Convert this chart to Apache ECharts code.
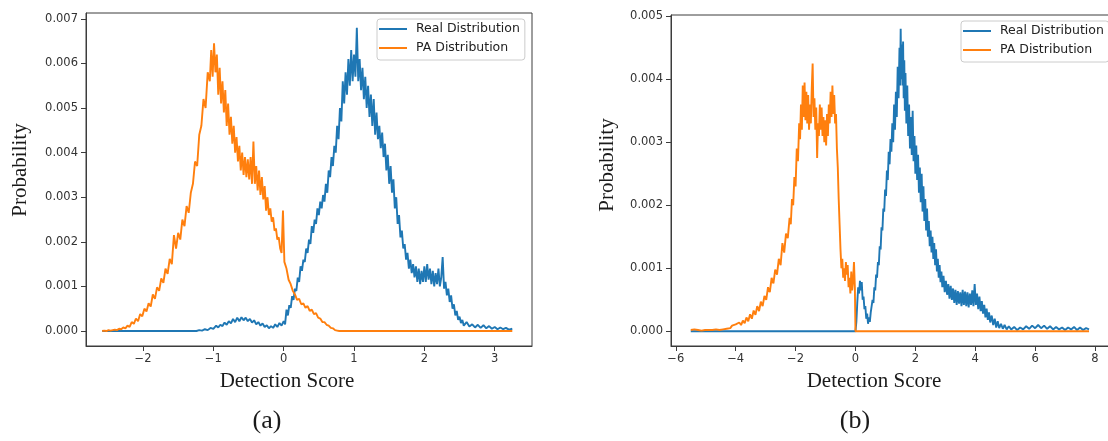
<!DOCTYPE html>
<html>
<head>
<meta charset="utf-8">
<title>Detection score distributions</title>
<script src="https://cdn.jsdelivr.net/npm/echarts@6/dist/echarts.min.js"></script>
<style>
  html, body { margin: 0; padding: 0; background: #fff; }
  #chart { width: 1108px; height: 441px; }
</style>
</head>
<body>
<div id="chart"></div>
<script>
// probabilities are written in units of 0.001, as [score, value]
const realA = [
  [-2.58, 0], [-1.24, 0], [-1.2, 0.02], [-1.16, 0.01], [-1.12, 0.04], [-1.08, 0.02], [-1.04, 0.07], [-1.0, 0.05],
  [-0.96, 0.12], [-0.93, 0.08], [-0.9, 0.14], [-0.87, 0.11], [-0.84, 0.19], [-0.81, 0.14], [-0.78, 0.22], [-0.75, 0.17],
  [-0.72, 0.27], [-0.69, 0.2], [-0.66, 0.3], [-0.63, 0.22], [-0.6, 0.31], [-0.57, 0.24], [-0.54, 0.3], [-0.51, 0.22],
  [-0.48, 0.27], [-0.45, 0.19], [-0.42, 0.24], [-0.39, 0.15], [-0.36, 0.2], [-0.33, 0.12], [-0.3, 0.17], [-0.27, 0.09],
  [-0.24, 0.13], [-0.21, 0.06], [-0.18, 0.11], [-0.15, 0.07], [-0.12, 0.15], [-0.09, 0.09], [-0.06, 0.18], [-0.03, 0.12],
  [0.0, 0.22], [0.02, 0.15], [0.04, 0.48], [0.06, 0.35], [0.08, 0.58], [0.1, 0.52], [0.12, 0.78], [0.14, 0.7],
  [0.16, 0.95], [0.18, 0.9], [0.2, 1.2], [0.22, 1.1], [0.24, 1.45], [0.26, 1.35], [0.28, 1.6], [0.3, 1.55],
  [0.32, 1.85], [0.34, 1.75], [0.36, 2.05], [0.38, 1.95], [0.4, 2.35], [0.42, 2.2], [0.44, 2.5], [0.46, 2.4],
  [0.48, 2.75], [0.5, 2.6], [0.52, 2.9], [0.54, 2.75], [0.56, 3.05], [0.58, 2.9], [0.6, 3.3], [0.62, 3.1],
  [0.64, 3.6], [0.66, 3.45], [0.68, 3.9], [0.7, 3.7], [0.72, 4.15], [0.74, 4.0], [0.76, 4.6], [0.78, 4.3],
  [0.8, 5.0], [0.82, 4.7], [0.84, 5.6], [0.86, 5.1], [0.88, 5.8], [0.9, 5.3], [0.92, 6.1], [0.94, 5.5],
  [0.96, 6.3], [0.98, 5.6], [1.0, 6.2], [1.02, 5.7], [1.04, 6.8], [1.06, 5.6], [1.08, 6.1], [1.1, 5.4],
  [1.12, 5.9], [1.14, 5.2], [1.16, 5.7], [1.18, 5.0], [1.2, 5.5], [1.22, 4.8], [1.24, 5.3], [1.26, 4.6],
  [1.28, 5.2], [1.3, 4.4], [1.32, 4.9], [1.34, 4.3], [1.36, 4.6], [1.38, 4.1], [1.4, 4.45], [1.42, 3.9],
  [1.44, 4.2], [1.46, 3.6], [1.48, 3.95], [1.5, 3.3], [1.52, 3.7], [1.54, 3.1], [1.56, 3.4], [1.58, 2.75],
  [1.6, 3.0], [1.62, 2.4], [1.64, 2.6], [1.66, 2.1], [1.68, 2.25], [1.7, 1.85], [1.72, 1.95], [1.74, 1.6],
  [1.76, 1.75], [1.78, 1.4], [1.8, 1.6], [1.82, 1.3], [1.84, 1.5], [1.86, 1.2], [1.88, 1.45], [1.9, 1.1],
  [1.92, 1.4], [1.94, 1.05], [1.96, 1.35], [1.98, 1.1], [2.0, 1.45], [2.02, 1.1], [2.04, 1.5], [2.06, 1.15],
  [2.08, 1.4], [2.1, 1.05], [2.12, 1.35], [2.14, 1.0], [2.16, 1.3], [2.18, 1.05], [2.2, 1.4], [2.22, 1.0],
  [2.24, 1.2], [2.26, 1.66], [2.28, 0.95], [2.3, 1.1], [2.32, 0.8], [2.34, 0.95], [2.36, 0.65], [2.38, 0.8],
  [2.4, 0.5], [2.42, 0.6], [2.44, 0.35], [2.46, 0.45], [2.48, 0.25], [2.5, 0.32], [2.52, 0.18], [2.54, 0.25],
  [2.56, 0.12], [2.6, 0.2], [2.64, 0.1], [2.68, 0.15], [2.72, 0.08], [2.76, 0.14], [2.8, 0.07], [2.84, 0.13],
  [2.88, 0.06], [2.92, 0.11], [2.96, 0.05], [3.0, 0.09], [3.04, 0.04], [3.08, 0.08], [3.12, 0.04], [3.16, 0.07],
  [3.2, 0.03], [3.25, 0.05],
];

const paA = [
  [-2.58, 0], [-2.55, 0.01], [-2.52, 0], [-2.49, 0.02], [-2.46, 0.01], [-2.43, 0.02], [-2.4, 0.03], [-2.37, 0.02],
  [-2.34, 0.05], [-2.31, 0.04], [-2.28, 0.08], [-2.25, 0.06], [-2.22, 0.12], [-2.19, 0.09], [-2.16, 0.2], [-2.13, 0.16],
  [-2.1, 0.28], [-2.07, 0.22], [-2.04, 0.38], [-2.01, 0.33], [-1.98, 0.5], [-1.95, 0.44], [-1.92, 0.62], [-1.89, 0.55],
  [-1.86, 0.82], [-1.83, 0.72], [-1.8, 0.98], [-1.77, 0.9], [-1.74, 1.18], [-1.71, 1.08], [-1.68, 1.4], [-1.65, 1.28],
  [-1.62, 1.62], [-1.59, 1.5], [-1.56, 2.15], [-1.53, 1.85], [-1.5, 2.2], [-1.47, 2.05], [-1.44, 2.5], [-1.41, 2.35],
  [-1.38, 2.8], [-1.35, 2.65], [-1.32, 3.1], [-1.29, 3.3], [-1.26, 3.8], [-1.23, 3.7], [-1.2, 4.4], [-1.17, 4.6],
  [-1.14, 5.2], [-1.11, 5.0], [-1.08, 5.8], [-1.05, 5.6], [-1.03, 6.3], [-1.01, 5.7], [-0.99, 6.45], [-0.97, 5.8],
  [-0.95, 6.2], [-0.93, 5.3], [-0.91, 5.9], [-0.89, 5.1], [-0.87, 5.6], [-0.85, 4.9], [-0.83, 5.4], [-0.81, 4.6],
  [-0.79, 5.1], [-0.77, 4.4], [-0.75, 4.8], [-0.73, 4.2], [-0.71, 4.6], [-0.69, 4.0], [-0.67, 4.35], [-0.65, 3.8],
  [-0.63, 4.15], [-0.61, 3.6], [-0.59, 4.0], [-0.57, 3.5], [-0.55, 3.9], [-0.53, 3.45], [-0.51, 3.85], [-0.49, 3.4],
  [-0.47, 3.9], [-0.45, 3.3], [-0.43, 4.25], [-0.41, 3.3], [-0.39, 3.7], [-0.37, 3.15], [-0.35, 3.6], [-0.33, 3.05],
  [-0.31, 3.45], [-0.29, 2.95], [-0.27, 3.25], [-0.25, 2.7], [-0.23, 3.0], [-0.21, 2.6], [-0.19, 2.75], [-0.17, 2.45],
  [-0.15, 2.55], [-0.13, 2.25], [-0.11, 2.3], [-0.09, 2.05], [-0.07, 2.1], [-0.05, 1.85], [-0.03, 1.75], [-0.01, 2.7],
  [0.01, 1.55], [0.04, 1.4], [0.07, 1.15], [0.1, 1.05], [0.13, 0.9], [0.16, 0.82], [0.19, 0.7], [0.22, 0.72],
  [0.25, 0.6], [0.28, 0.62], [0.31, 0.52], [0.34, 0.56], [0.37, 0.45], [0.4, 0.48], [0.43, 0.38], [0.46, 0.4],
  [0.49, 0.3], [0.52, 0.28], [0.55, 0.2], [0.58, 0.2], [0.61, 0.14], [0.64, 0.12], [0.67, 0.07], [0.7, 0.06],
  [0.73, 0.02], [0.76, 0.01], [0.79, 0], [3.25, 0],
];

const realB = [
  [-5.5, 0], [0.0, 0], [0.03, 0.15], [0.06, 0.45], [0.09, 0.7], [0.12, 0.6], [0.15, 0.8], [0.18, 0.65],
  [0.21, 0.78], [0.24, 0.5], [0.27, 0.55], [0.3, 0.35], [0.33, 0.4], [0.36, 0.2], [0.39, 0.28], [0.42, 0.12],
  [0.45, 0.22], [0.48, 0.15], [0.51, 0.3], [0.54, 0.28], [0.57, 0.5], [0.6, 0.45], [0.63, 0.7], [0.66, 0.65],
  [0.69, 0.9], [0.72, 0.85], [0.75, 1.1], [0.78, 1.05], [0.81, 1.35], [0.84, 1.3], [0.87, 1.65], [0.9, 1.6],
  [0.93, 1.95], [0.96, 1.9], [0.99, 2.25], [1.02, 2.15], [1.05, 2.55], [1.08, 2.4], [1.11, 2.85], [1.14, 2.65],
  [1.17, 3.05], [1.2, 2.85], [1.23, 3.3], [1.26, 3.0], [1.29, 3.6], [1.32, 3.2], [1.35, 3.8], [1.38, 3.4],
  [1.41, 4.2], [1.44, 3.7], [1.47, 4.5], [1.49, 3.9], [1.51, 4.8], [1.53, 4.0], [1.55, 4.55], [1.57, 3.9],
  [1.59, 4.6], [1.61, 3.7], [1.63, 4.3], [1.65, 3.5], [1.67, 4.1], [1.7, 3.3], [1.73, 3.9], [1.76, 3.1],
  [1.79, 3.6], [1.82, 2.9], [1.85, 3.4], [1.88, 2.8], [1.91, 3.5], [1.94, 2.7], [1.97, 3.1], [2.0, 2.5],
  [2.03, 2.95], [2.06, 2.4], [2.09, 2.8], [2.12, 2.2], [2.15, 2.6], [2.18, 2.05], [2.21, 2.5], [2.24, 1.9],
  [2.27, 2.3], [2.3, 1.75], [2.33, 2.1], [2.36, 1.6], [2.39, 1.95], [2.42, 1.5], [2.45, 1.75], [2.48, 1.35],
  [2.51, 1.6], [2.54, 1.25], [2.57, 1.5], [2.6, 1.15], [2.63, 1.4], [2.66, 1.05], [2.69, 1.3], [2.72, 0.95],
  [2.75, 1.15], [2.78, 0.85], [2.81, 1.05], [2.84, 0.78], [2.87, 0.95], [2.9, 0.7], [2.94, 0.88], [2.98, 0.62],
  [3.02, 0.8], [3.06, 0.58], [3.1, 0.75], [3.14, 0.52], [3.18, 0.72], [3.22, 0.5], [3.26, 0.68], [3.3, 0.45],
  [3.34, 0.66], [3.38, 0.42], [3.42, 0.64], [3.46, 0.44], [3.5, 0.62], [3.54, 0.4], [3.58, 0.66], [3.62, 0.42],
  [3.66, 0.63], [3.7, 0.4], [3.74, 0.62], [3.78, 0.38], [3.82, 0.6], [3.86, 0.42], [3.9, 0.65], [3.94, 0.4],
  [3.98, 0.75], [4.02, 0.42], [4.06, 0.6], [4.1, 0.35], [4.14, 0.55], [4.18, 0.32], [4.22, 0.48], [4.26, 0.28],
  [4.3, 0.42], [4.34, 0.22], [4.38, 0.36], [4.42, 0.18], [4.46, 0.3], [4.5, 0.14], [4.55, 0.25], [4.6, 0.1],
  [4.65, 0.2], [4.7, 0.06], [4.75, 0.16], [4.8, 0.05], [4.86, 0.12], [4.92, 0.04], [4.98, 0.1], [5.05, 0.03],
  [5.12, 0.08], [5.2, 0.03], [5.3, 0.07], [5.4, 0.02], [5.5, 0.06], [5.6, 0.03], [5.7, 0.08], [5.8, 0.04],
  [5.9, 0.09], [6.0, 0.05], [6.1, 0.1], [6.2, 0.05], [6.3, 0.09], [6.4, 0.04], [6.5, 0.08], [6.6, 0.03],
  [6.7, 0.07], [6.8, 0.03], [6.9, 0.06], [7.0, 0.02], [7.1, 0.06], [7.2, 0.03], [7.3, 0.07], [7.4, 0.02],
  [7.5, 0.06], [7.6, 0.02], [7.7, 0.05], [7.8, 0.03],
];

const paB = [
  [-5.5, 0.02], [-5.44, 0.01], [-5.38, 0.03], [-5.32, 0.01], [-5.26, 0.02], [-5.2, 0.03], [-5.14, 0.01], [-5.08, 0.03],
  [-5.02, 0.02], [-4.96, 0.04], [-4.9, 0.02], [-4.84, 0.03], [-4.78, 0.02], [-4.72, 0.04], [-4.66, 0.03], [-4.6, 0.05],
  [-4.54, 0.02], [-4.48, 0.04], [-4.42, 0.03], [-4.36, 0.06], [-4.3, 0.04], [-4.24, 0.07], [-4.18, 0.05], [-4.12, 0.09],
  [-4.06, 0.06], [-4.0, 0.11], [-3.94, 0.08], [-3.88, 0.14], [-3.82, 0.1], [-3.76, 0.17], [-3.7, 0.13], [-3.64, 0.22],
  [-3.58, 0.16], [-3.52, 0.27], [-3.46, 0.2], [-3.4, 0.33], [-3.34, 0.26], [-3.28, 0.4], [-3.22, 0.32], [-3.16, 0.47],
  [-3.1, 0.4], [-3.04, 0.56], [-2.98, 0.5], [-2.92, 0.7], [-2.86, 0.62], [-2.8, 0.85], [-2.74, 0.76], [-2.68, 0.98],
  [-2.62, 0.9], [-2.56, 1.15], [-2.5, 1.05], [-2.44, 1.4], [-2.38, 1.25], [-2.32, 1.55], [-2.26, 1.48], [-2.2, 1.8],
  [-2.16, 1.7], [-2.12, 2.1], [-2.08, 2.0], [-2.04, 2.45], [-2.0, 2.3], [-1.96, 2.9], [-1.92, 2.7], [-1.88, 3.3],
  [-1.85, 3.05], [-1.82, 3.6], [-1.79, 3.2], [-1.76, 3.9], [-1.73, 3.4], [-1.7, 3.95], [-1.67, 3.35], [-1.64, 3.8],
  [-1.61, 3.3], [-1.58, 3.75], [-1.55, 3.2], [-1.52, 3.6], [-1.49, 3.3], [-1.46, 3.85], [-1.43, 4.25], [-1.4, 3.4],
  [-1.37, 3.7], [-1.34, 3.2], [-1.31, 3.55], [-1.28, 2.75], [-1.25, 3.3], [-1.22, 3.1], [-1.19, 3.6], [-1.16, 3.2],
  [-1.13, 3.55], [-1.1, 3.1], [-1.07, 3.4], [-1.04, 3.0], [-1.01, 3.35], [-0.98, 2.95], [-0.95, 3.45], [-0.92, 3.1],
  [-0.89, 3.6], [-0.86, 3.3], [-0.83, 3.8], [-0.8, 3.4], [-0.77, 3.9], [-0.74, 3.45], [-0.71, 3.75], [-0.68, 3.3],
  [-0.65, 3.45], [-0.62, 2.9], [-0.59, 2.6], [-0.56, 2.1], [-0.53, 1.7], [-0.5, 1.3], [-0.47, 1.0], [-0.44, 1.15],
  [-0.41, 0.85], [-0.38, 1.0], [-0.35, 0.8], [-0.32, 1.1], [-0.29, 0.9], [-0.26, 1.05], [-0.23, 0.7], [-0.2, 0.85],
  [-0.17, 0.6], [-0.14, 0.95], [-0.11, 0.65], [-0.08, 0.8], [-0.05, 1.1], [-0.02, 0.7], [0.0, 0], [7.8, 0],
];

const xTicksA = [-2, -1, 0, 1, 2, 3];
const yTicksA = [0, 0.001, 0.002, 0.003, 0.004, 0.005, 0.006, 0.007];
const xTicksB = [-6, -4, -2, 0, 2, 4, 6, 8];
const yTicksB = [0, 0.001, 0.002, 0.003, 0.004, 0.005];

const SERIES_NAMES = ["Real Distribution", "PA Distribution"];
const COLORS = ["#1f77b4", "#ff7f0e"];
const FRAME = "#3c3c3c";
const SANS = "DejaVu Sans";
const SERIF = "Liberation Serif";

const chart = echarts.init(document.getElementById("chart"), null, { renderer: "canvas" });

function toProbability(points) {
  return points.map(([x, v]) => [x, v / 1000]);
}

function formatScore(value) {
  return String(value).replace("-", "\u2212");
}

function buildXAxis(gridIndex, min, max, ticks) {
  return {
    type: "value",
    gridIndex,
    min,
    max,
    axisLine: { show: true, onZero: false, lineStyle: { color: FRAME, width: 1 } },
    axisTick: { show: true, length: 5, customValues: ticks, lineStyle: { color: FRAME } },
    axisLabel: {
      customValues: ticks,
      margin: 7,
      color: "#333",
      fontFamily: SANS,
      fontSize: 11.5,
      formatter: formatScore,
    },
    splitLine: { show: false },
  };
}

function buildYAxis(gridIndex, min, max, ticks) {
  return {
    type: "value",
    gridIndex,
    min,
    max,
    axisLine: { show: true, onZero: false, lineStyle: { color: FRAME, width: 1 } },
    axisTick: { show: true, length: 5, customValues: ticks, lineStyle: { color: FRAME } },
    axisLabel: {
      customValues: ticks,
      margin: 8,
      color: "#333",
      fontFamily: SANS,
      fontSize: 11.5,
      formatter: (value) => value.toFixed(3),
    },
    splitLine: { show: false },
  };
}

function buildLine(name, color, points, axisIndex) {
  return {
    name,
    type: "line",
    xAxisIndex: axisIndex,
    yAxisIndex: axisIndex,
    data: toProbability(points),
    symbol: "none",
    showSymbol: false,
    lineStyle: { color, width: 1.9 },
    itemStyle: { color },
    silent: true,
  };
}

function buildLegend(left, top) {
  return {
    data: SERIES_NAMES.map((name) => ({ name, icon: "rect" })),
    orient: "vertical",
    left,
    top,
    padding: [3, 5, 5, 2],
    itemGap: 5,
    itemWidth: 28,
    itemHeight: 2,
    backgroundColor: "rgba(255,255,255,0.8)",
    borderColor: "#cccccc",
    borderWidth: 1,
    borderRadius: 3,
    textStyle: {
      color: "#222",
      fontFamily: SANS,
      fontSize: 12.5,
      lineHeight: 14,
      padding: [0, 0, 0, 4],
    },
  };
}

function serifText(text, x, y, size, rotation) {
  return {
    type: "text",
    x,
    y,
    rotation: rotation || 0,
    silent: true,
    style: {
      text,
      fill: "#1a1a1a",
      fontFamily: SERIF,
      fontSize: size,
      align: "center",
      verticalAlign: "middle",
    },
  };
}

chart.setOption({
  animation: false,
  backgroundColor: "#ffffff",
  grid: [
    { left: 86, top: 13, width: 446, height: 333, show: true, borderColor: FRAME, borderWidth: 1, outerBoundsMode: "none" },
    { left: 671, top: 15, width: 442, height: 331, show: true, borderColor: FRAME, borderWidth: 1, outerBoundsMode: "none" },
  ],
  xAxis: [
    buildXAxis(0, -2.81, 3.53, xTicksA),
    buildXAxis(1, -6.16, 8.6, xTicksB),
  ],
  yAxis: [
    buildYAxis(0, -0.000336, 0.00713, yTicksA),
    buildYAxis(1, -0.000233, 0.00502, yTicksB),
  ],
  legend: [buildLegend(377, 19), buildLegend(961, 21)],
  series: [
    buildLine(SERIES_NAMES[0], COLORS[0], realA, 0),
    buildLine(SERIES_NAMES[1], COLORS[1], paA, 0),
    buildLine(SERIES_NAMES[0], COLORS[0], realB, 1),
    buildLine(SERIES_NAMES[1], COLORS[1], paB, 1),
  ],
  graphic: [
    serifText("Probability", 20, 170, 21, Math.PI / 2),
    serifText("Probability", 607, 165, 21, Math.PI / 2),
    serifText("Detection Score", 287, 381, 21),
    serifText("Detection Score", 874, 381, 21),
    serifText("(a)", 267, 421, 26),
    serifText("(b)", 855, 421, 26),
  ],
});

window.addEventListener("resize", () => chart.resize());
</script>
</body>
</html>
